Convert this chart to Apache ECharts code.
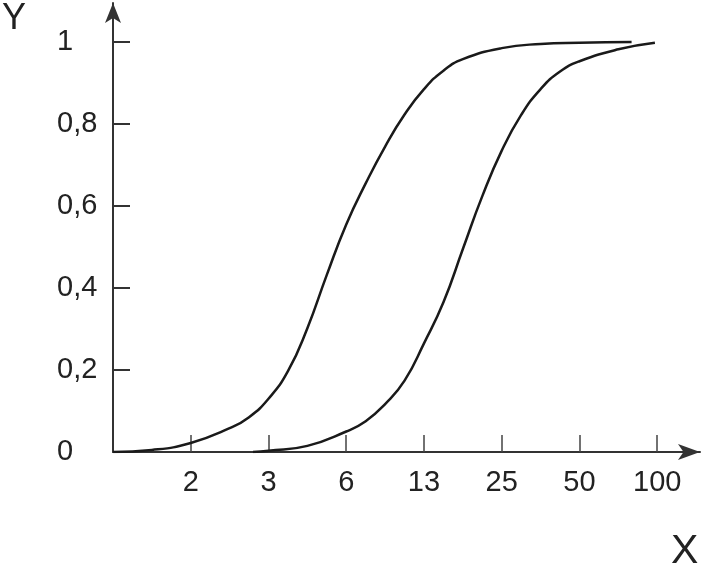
<!DOCTYPE html>
<html>
<head>
<meta charset="utf-8">
<title>S-curves</title>
<script src="https://cdn.jsdelivr.net/npm/echarts@6/dist/echarts.min.js"></script>
<style>
  html, body { margin: 0; padding: 0; background: #fff; }
  #chart { width: 703px; height: 571px; }
</style>
</head>
<body>
<div id="chart"></div>
<script>
// x positions are tick slots (0 = origin, 1 = "2", 2 = "3", ... 7 = "100")
const xTickLabels = ['2', '3', '6', '13', '25', '50', '100'];
const yTickValues = [0, 0.2, 0.4, 0.6, 0.8, 1];

// left curve
const curveAX = [0, 0.5, 1, 1.5, 1.75, 2, 2.25, 2.5, 2.75, 3, 3.25, 3.5, 3.75, 4, 4.25, 4.5, 5, 5.5, 6, 6.67];
const curveAY = [0, 0.005, 0.022, 0.058, 0.085, 0.13, 0.197, 0.302, 0.432, 0.555, 0.655, 0.745, 0.823, 0.885, 0.93, 0.958, 0.985, 0.995, 0.998, 1];

// right curve
const curveBX = [1.8, 2, 2.5, 3, 3.25, 3.5, 3.75, 4, 4.25, 4.5, 4.75, 5, 5.25, 5.5, 5.75, 6, 6.5, 6.97];
const curveBY = [0, 0.003, 0.015, 0.05, 0.075, 0.117, 0.174, 0.265, 0.365, 0.495, 0.624, 0.735, 0.822, 0.885, 0.928, 0.953, 0.982, 0.998];

const pairs = (xs, ys) => xs.map((x, i) => [x, ys[i]]);

const chart = echarts.init(document.getElementById('chart'), null, { renderer: 'canvas' });

const fontFamily = '"Liberation Sans", Arial, sans-serif';
const textColor = '#222';

const curveStyle = {
  type: 'line',
  smooth: 0.5,
  showSymbol: false,
  lineStyle: { color: '#1a1a1a', width: 2.5 }
};

chart.setOption({
  animation: false,
  grid: { left: 113, right: 3, top: 3, bottom: 119, containLabel: false },
  xAxis: {
    type: 'value',
    min: 0,
    max: 7.55,
    splitLine: { show: false },
    axisLine: {
      lineStyle: { color: '#333', width: 2 },
      symbol: ['none', 'arrow'],
      symbolSize: [12, 22]
    },
    axisTick: {
      inside: true,
      length: 17,
      customValues: [1, 2, 3, 4, 5, 6, 7],
      lineStyle: { color: '#444', width: 1.5 }
    },
    axisLabel: {
      customValues: [1, 2, 3, 4, 5, 6, 7],
      margin: 16,
      color: textColor,
      fontFamily: fontFamily,
      fontSize: 29,
      formatter: v => xTickLabels[Math.round(v) - 1] || ''
    }
  },
  yAxis: {
    type: 'value',
    min: 0,
    max: 1.095,
    splitLine: { show: false },
    axisLine: {
      lineStyle: { color: '#333', width: 2 },
      symbol: ['none', 'arrow'],
      symbolSize: [12, 20]
    },
    axisTick: {
      inside: true,
      length: 17,
      customValues: yTickValues.slice(1),
      lineStyle: { color: '#333', width: 2 }
    },
    axisLabel: {
      customValues: yTickValues,
      margin: 56,
      align: 'left',
      color: textColor,
      fontFamily: fontFamily,
      fontSize: 29,
      formatter: v => String(v).replace('.', ',')
    }
  },
  graphic: [
    {
      type: 'text', left: 2, top: 1,
      style: { text: 'Y', fill: textColor, font: '36px ' + fontFamily }
    },
    {
      type: 'text', left: 671, top: 531,
      style: { text: 'X', fill: textColor, font: '41px ' + fontFamily }
    }
  ],
  series: [
    Object.assign({ data: pairs(curveAX, curveAY) }, curveStyle),
    Object.assign({ data: pairs(curveBX, curveBY) }, curveStyle)
  ]
});
</script>
</body>
</html>
